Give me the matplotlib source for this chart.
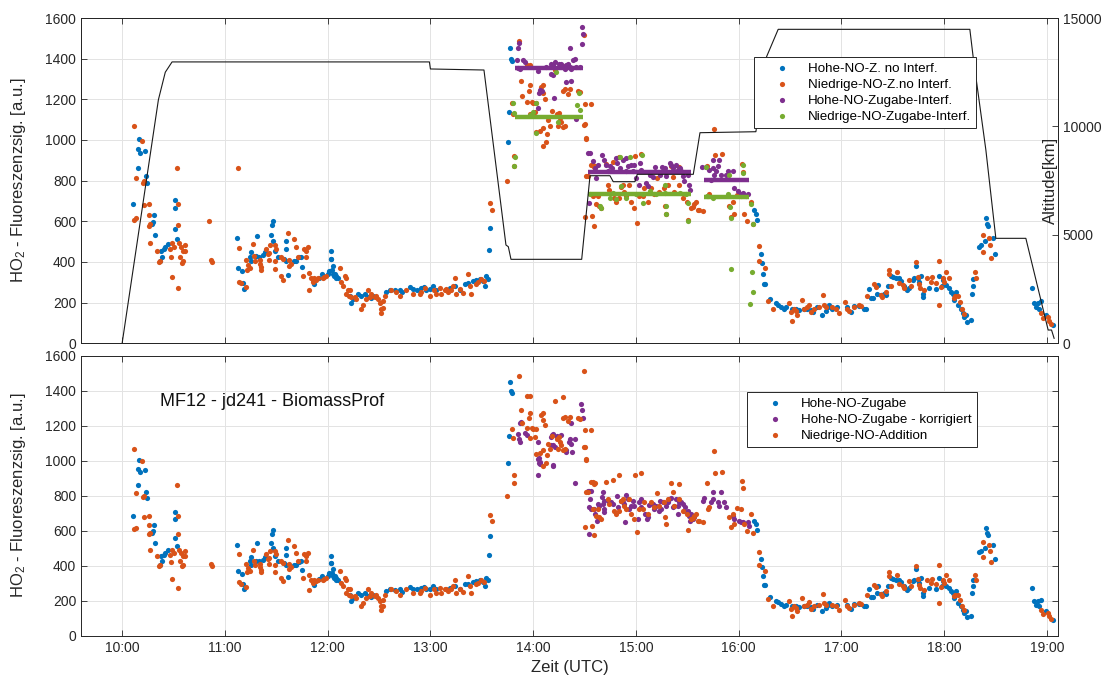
import matplotlib.pyplot as plt

plt.rcParams['font.family'] = ['Liberation Sans', 'DejaVu Sans']
plt.rcParams['mathtext.default'] = 'regular'

# colours of the instrument channels
C_BLUE = '#0072BD'
C_ORANGE = '#D95319'
C_PURPLE = '#7E2F8E'
C_GREEN = '#77AC30'
C_AXIS = '#262626'

# time axis (decimal hours UTC)
hour_ticks = [10, 11, 12, 13, 14, 15, 16, 17, 18, 19]
hour_labels = ['10:00', '11:00', '12:00', '13:00', '14:00',
               '15:00', '16:00', '17:00', '18:00', '19:00']

# high NO addition, no interference
blue_t = [10.103, 10.152, 10.155, 10.161, 10.171, 10.226, 10.232, 10.242, 10.29, 10.30,
          10.313, 10.316, 10.371, 10.377, 10.387, 10.403, 10.419, 10.45, 10.51, 10.516,
          10.516, 10.532, 11.113, 11.123, 11.168, 11.177, 11.187, 11.242, 11.258, 11.258,
          11.306, 11.316, 11.329, 11.371, 11.387, 11.452, 11.458, 11.468, 11.468, 11.484,
          11.516, 11.58, 11.597, 11.597, 11.597, 11.613, 11.677, 11.694, 11.726, 11.742,
          11.752, 11.855, 11.871, 11.919, 11.942, 12.0, 12.016, 12.032, 12.036, 12.036,
          12.045, 12.048, 12.052, 12.065, 12.068, 12.081, 12.084, 12.10, 12.214, 12.23,
          12.247, 12.295, 12.328, 12.36, 12.393, 12.425, 12.44, 12.571, 12.604, 12.653,
          12.701, 12.727, 12.799, 12.83, 12.87, 12.912, 12.938, 12.961, 12.994, 13.026,
          13.058, 13.188, 13.237, 13.286, 13.334, 13.367, 13.416, 13.448, 13.481, 13.513,
          13.529, 13.545, 13.562, 13.568, 13.578, 13.756, 13.763, 13.776, 13.782, 13.789,
          16.153, 16.169, 16.175, 16.218, 16.224, 16.234, 16.244, 16.256, 16.305, 16.364,
          16.38, 16.412, 16.445, 16.461, 16.523, 16.555, 16.588, 16.636, 16.669, 16.701,
          16.724, 16.766, 16.815, 16.847, 16.864, 16.88, 16.912, 16.961, 17.058, 17.091,
          17.123, 17.172, 17.221, 17.237, 17.269, 17.286, 17.302, 17.341, 17.36, 17.383,
          17.416, 17.432, 17.448, 17.481, 17.497, 17.529, 17.562, 17.578, 17.61, 17.633,
          17.659, 17.692, 17.708, 17.724, 17.74, 17.756, 17.773, 17.789, 17.795, 17.854,
          17.919, 17.951, 17.977, 17.99, 18.016, 18.049, 18.065, 18.081, 18.097, 18.114,
          18.13, 18.162, 18.179, 18.195, 18.211, 18.218, 18.26, 18.269, 18.282, 18.276,
          18.341, 18.357, 18.406, 18.412, 18.422, 18.399, 18.471, 18.497, 18.854, 18.877,
          18.893, 18.909, 18.925, 18.942, 18.99, 19.055]
blue_v = [685, 860, 954, 1006, 935, 944, 823, 787, 585, 598,
          630, 531, 406, 454, 425, 463, 473, 488, 560, 704,
          665, 512, 516, 371, 354, 297, 265, 426, 451, 403,
          429, 527, 426, 435, 449, 531, 583, 604, 502, 454,
          425, 415, 406, 502, 463, 335, 404, 404, 423, 427,
          375, 310, 291, 323, 339, 339, 358, 416, 455, 417,
          360, 339, 379, 329, 340, 320, 331, 321, 235, 197,
          216, 245, 235, 245, 226, 222, 235, 254, 264, 260,
          264, 250, 277, 268, 264, 273, 279, 264, 268, 283,
          264, 273, 283, 264, 293, 298, 306, 312, 318, 306,
          283, 331, 318, 461, 567, 988, 1139, 1452, 1400, 1388,
          657, 638, 606, 438, 394, 343, 291, 291, 219, 196,
          190, 181, 171, 177, 168, 171, 162, 168, 171, 162,
          152, 177, 139, 158, 177, 187, 168, 177, 177, 152,
          183, 183, 171, 171, 267, 221, 221, 244, 286, 236,
          244, 236, 282, 330, 324, 320, 320, 305, 282, 263,
          272, 311, 320, 381, 320, 301, 330, 229, 244, 272,
          267, 330, 282, 311, 286, 272, 253, 244, 215, 253,
          187, 171, 149, 129, 139, 107, 115, 244, 282, 316,
          476, 486, 615, 587, 577, 501, 516, 438, 272, 196,
          177, 196, 171, 206, 139, 91]

# low NO addition (same samples in both panels)
orange_t = [10.113, 10.119, 10.135, 10.139, 10.194, 10.203, 10.21, 10.21, 10.258, 10.258,
            10.258, 10.274, 10.274, 10.339, 10.355, 10.365, 10.468, 10.477, 10.484, 10.484,
            10.5, 10.532, 10.539, 10.548, 10.548, 10.558, 10.565, 10.571, 10.581, 10.597,
            10.597, 10.613, 10.613, 10.865, 10.871, 11.139, 11.139, 11.161, 11.21, 11.21,
            11.219, 11.226, 11.242, 11.274, 11.281, 11.29, 11.34, 11.345, 11.35, 11.355,
            11.403, 11.419, 11.426, 11.429, 11.435, 11.484, 11.49, 11.49, 11.5, 11.548,
            11.548, 11.565, 11.565, 11.613, 11.623, 11.623, 11.639, 11.677, 11.694, 11.71,
            11.758, 11.768, 11.79, 11.79, 11.806, 11.816, 11.823, 11.839, 11.855, 11.871,
            11.887, 11.903, 11.952, 11.968, 11.984, 12.117, 12.133, 12.149, 12.166, 12.182,
            12.182, 12.198, 12.208, 12.221, 12.23, 12.263, 12.279, 12.328, 12.344, 12.377,
            12.393, 12.409, 12.425, 12.458, 12.474, 12.49, 12.506, 12.523, 12.523, 12.539,
            12.539, 12.555, 12.62, 12.669, 12.701, 12.766, 12.831, 12.896, 12.912, 12.945,
            12.994, 13.032, 13.058, 13.091, 13.107, 13.14, 13.156, 13.172, 13.205, 13.221,
            13.237, 13.253, 13.286, 13.318, 13.367, 13.383, 13.399, 13.448, 13.464, 13.497,
            13.52, 13.584, 13.597, 13.747, 13.792, 13.805, 13.815, 13.815, 13.864, 13.88,
            13.89, 13.935, 13.94, 13.955, 13.968, 13.968, 13.97, 13.99, 14.0, 14.016,
            14.03, 14.032, 14.065, 14.075, 14.091, 14.091, 14.097, 14.097, 14.114, 14.123,
            14.13, 14.146, 14.162, 14.179, 14.214, 14.233, 14.243, 14.252, 14.265, 14.27,
            14.29, 14.291, 14.292, 14.307, 14.307, 14.34, 14.356, 14.437, 14.453, 14.497,
            14.495, 14.502, 14.502, 14.513, 14.518, 14.566, 14.506, 14.516, 14.534, 14.562,
            14.571, 14.578, 14.583, 14.588, 14.588, 14.599, 14.61, 14.627, 14.643, 14.659,
            14.708, 14.724, 14.74, 14.779, 14.789, 14.805, 14.831, 14.838, 14.854, 14.87,
            14.886, 14.903, 14.935, 14.951, 14.984, 14.994, 15.006, 15.032, 15.049, 15.065,
            15.081, 15.114, 15.146, 15.172, 15.205, 15.227, 15.276, 15.286, 15.292, 15.308,
            15.341, 15.357, 15.373, 15.416, 15.422, 15.461, 15.494, 15.503, 15.536, 15.552,
            15.568, 15.584, 15.601, 15.617, 15.649, 15.688, 15.698, 15.714, 15.763, 15.773,
            15.838, 15.909, 15.925, 15.942, 15.958, 15.981, 16.023, 16.032, 16.045, 16.055,
            16.078, 16.12, 16.143, 16.195, 16.201, 16.26, 16.282, 16.331, 16.49, 16.506,
            16.523, 16.539, 16.555, 16.571, 16.62, 16.636, 16.669, 16.685, 16.701, 16.734,
            16.782, 16.821, 16.831, 16.847, 16.912, 16.945, 16.977, 17.036, 17.058, 17.075,
            17.123, 17.172, 17.188, 17.253, 17.318, 17.334, 17.383, 17.399, 17.432, 17.458,
            17.464, 17.481, 17.545, 17.555, 17.594, 17.61, 17.659, 17.675, 17.724, 17.74,
            17.756, 17.763, 17.805, 17.828, 17.87, 17.88, 17.919, 17.945, 17.951, 17.968,
            17.984, 18.0, 18.016, 18.049, 18.091, 18.107, 18.13, 18.153, 18.172, 18.195,
            18.299, 18.308, 18.373, 18.38, 18.432, 18.445, 18.455, 18.942, 18.964, 19.006,
            19.023, 19.039]
orange_v = [1067, 608, 813, 617, 996, 790, 796, 679, 685, 630,
            579, 585, 492, 454, 400, 406, 463, 423, 492, 325,
            473, 862, 685, 583, 271, 492, 425, 473, 396, 454,
            406, 483, 454, 411, 400, 469, 304, 295, 279, 410,
            362, 387, 371, 487, 429, 406, 410, 390, 362, 377,
            466, 437, 446, 408, 485, 485, 404, 365, 466, 425,
            329, 416, 310, 544, 410, 381, 391, 512, 473, 425,
            329, 464, 454, 425, 473, 262, 348, 320, 300, 320,
            310, 320, 320, 325, 329, 369, 302, 283, 331, 321,
            245, 264, 235, 264, 226, 226, 216, 168, 187, 216,
            264, 226, 245, 226, 235, 216, 197, 168, 149, 206,
            172, 235, 264, 254, 235, 264, 245, 245, 254, 273,
            235, 264, 245, 273, 245, 264, 268, 254, 264, 283,
            321, 245, 268, 249, 341, 283, 245, 293, 302, 318,
            306, 689, 657, 800, 1183, 1130, 921, 873, 1486, 1289,
            1216, 1369, 1187, 1241, 1369, 1130, 1270, 1187, 1183, 1136,
            1183, 1040, 1046, 1260, 1270, 969, 1231, 1059, 1203, 988,
            1030, 1097, 1069, 1141, 1342, 1126, 1068, 1135, 1107, 1090,
            1365, 1241, 1063, 1250, 1068, 1225, 1250, 1241, 1237, 1076,
            1515, 1177, 1078, 1006, 1011, 1177, 619, 823, 823, 876,
            625, 724, 876, 867, 575, 873, 686, 724, 676, 667,
            880, 781, 752, 891, 714, 695, 714, 918, 771, 781,
            743, 724, 781, 695, 667, 920, 590, 724, 930, 724,
            762, 695, 762, 733, 815, 743, 762, 676, 638, 781,
            872, 819, 743, 867, 781, 714, 695, 606, 667, 670,
            686, 695, 657, 657, 651, 870, 724, 733, 1053, 928,
            933, 676, 619, 695, 638, 728, 724, 882, 842, 638,
            600, 695, 587, 404, 480, 371, 209, 171, 196, 152,
            110, 168, 158, 139, 215, 168, 177, 190, 152, 171,
            177, 240, 187, 177, 177, 168, 149, 202, 171, 158,
            177, 187, 183, 234, 291, 278, 236, 227, 253, 362,
            339, 282, 349, 297, 286, 272, 311, 282, 400, 324,
            291, 272, 263, 320, 301, 324, 297, 406, 187, 278,
            320, 301, 349, 320, 225, 234, 234, 202, 168, 145,
            349, 320, 535, 447, 520, 482, 419, 149, 126, 129,
            110, 95]

# two extra low-NO samples only kept in the upper panel
orange_top_t = [10.846, 11.13]
orange_top_v = [603, 864]

# high NO addition during interference, raw
purple_raw_t = [13.838, 13.854, 13.854, 13.864, 13.871, 13.903, 13.919, 14.049, 14.049, 14.058,
                14.065, 14.081, 14.129, 14.178, 14.178, 14.194, 14.194, 14.201, 14.21, 14.252,
                14.275, 14.291, 14.307, 14.317, 14.324, 14.34, 14.356, 14.356, 14.372, 14.372,
                14.388, 14.405, 14.414, 14.421, 14.453, 14.476, 14.479, 14.485,
                14.534, 14.544, 14.55, 14.583, 14.599, 14.615, 14.631, 14.673, 14.686, 14.712,
                14.728, 14.751, 14.77, 14.803, 14.816, 14.848, 14.874, 14.9, 14.906, 14.922,
                14.955, 14.971, 14.977, 15.003, 15.029, 15.042, 15.052, 15.1, 15.117, 15.133,
                15.165, 15.181, 15.23, 15.256, 15.278, 15.294, 15.327, 15.343, 15.359, 15.385,
                15.408, 15.424, 15.44, 15.456, 15.472, 15.505, 15.521, 15.528,
                15.644, 15.683, 15.715, 15.731, 15.748, 15.748, 15.764, 15.78, 15.796, 15.812,
                15.828, 15.877, 15.893, 15.942, 15.958, 15.99, 16.023, 16.039, 16.071, 16.087]
purple_raw_v = [1392, 1452, 1354, 1478, 1351, 1392, 1384, 1338, 1155, 1229,
                1245, 1240, 1359, 1376, 1327, 1367, 1319, 1208, 1384, 1376,
                1376, 1359, 1351, 1286, 1367, 1376, 1359, 1452, 1351, 1289,
                1392, 1400, 1103, 1359, 1359, 1555, 1473, 1522,
                935, 691, 935, 895, 862, 813, 875, 924, 903, 878,
                846, 870, 862, 911, 887, 862, 903, 911, 849, 870,
                878, 846, 875, 813, 781, 887, 854, 789, 773, 830,
                816, 865, 830, 865, 862, 822, 887, 878, 862, 878,
                854, 862, 846, 822, 797, 830, 781, 756,
                865, 865, 854, 805, 862, 903, 830, 846, 870, 903,
                830, 830, 846, 846, 765, 748, 735, 740, 724, 732]

# low NO addition during interference
green_t = [13.806, 13.816, 13.816, 13.822, 13.968, 14.0, 14.026, 14.032, 14.22, 14.243,
           14.427, 14.447, 14.453, 14.55, 14.647, 14.663, 14.744, 14.777, 14.809, 14.841,
           14.858, 14.906, 14.939, 15.003, 15.061, 15.068, 15.068, 15.133, 15.197, 15.278,
           15.278, 15.288, 15.294, 15.424, 15.489, 15.505, 15.505,
           15.683, 15.693, 15.748, 15.893, 15.903, 15.916, 15.926, 15.926, 16.039,
           16.039, 16.11, 16.12, 16.129, 16.136, 16.142]
green_v = [1180, 1131, 870, 916, 1123, 1139, 1180, 1033, 1335, 1087,
           1172, 1229, 1147, 732, 675, 667, 716, 740, 708, 914,
           773, 716, 914, 732, 927, 735, 691, 748, 732, 781,
           740, 675, 634, 740, 732, 691, 601,
           865, 724, 716, 735, 826, 670, 618, 365, 878,
           838, 191, 686, 349, 254, 585]

# segment means of the interference periods
seg_start = [13.82, 14.53, 15.66]
seg_end = [14.48, 15.54, 16.10]
seg_hi = [1354, 841, 802]
seg_lo = [1115, 732, 719]

# high NO addition, corrected for interference
purple_cor_t = [13.854, 13.864, 13.87, 13.87, 13.886, 13.919, 13.935, 14.042, 14.049, 14.049,
                14.055, 14.058, 14.065, 14.071, 14.178, 14.178, 14.179, 14.188, 14.194, 14.194,
                14.195, 14.21, 14.227, 14.233, 14.275, 14.318, 14.324, 14.351, 14.356, 14.366,
                14.372, 14.377, 14.405, 14.409, 14.469, 14.479, 14.485,
                14.529, 14.539, 14.545, 14.545, 14.552, 14.562, 14.562, 14.594, 14.604, 14.617,
                14.627, 14.643, 14.669, 14.675, 14.675, 14.692, 14.692, 14.692, 14.74, 14.756,
                14.773, 14.812, 14.821, 14.854, 14.87, 14.886, 14.896, 14.903, 14.919, 14.935,
                14.951, 14.968, 14.984, 15.016, 15.032, 15.049, 15.049, 15.091, 15.104, 15.114,
                15.13, 15.162, 15.179, 15.195, 15.221, 15.234, 15.244, 15.26, 15.292, 15.308,
                15.325, 15.341, 15.357, 15.373, 15.39, 15.406, 15.406, 15.422, 15.438, 15.455,
                15.471, 15.481, 15.503, 15.519, 15.526, 15.536, 15.552, 15.568,
                15.649, 15.666, 15.731, 15.747, 15.753, 15.795, 15.812, 15.828, 15.86, 15.877,
                15.942, 15.958, 16.006, 16.023, 16.039, 16.088, 16.104]
purple_cor_v = [1155, 1126, 1218, 1107, 1222, 1160, 1149, 919, 1107, 1011,
                988, 1015, 992, 982, 1135, 1087, 1149, 1088, 1154, 972,
                973, 1078, 1136, 1141, 1145, 1048, 1059, 1105, 1122, 1218,
                1097, 1051, 1126, 870, 1321, 1289, 1241,
                829, 581, 829, 733, 781, 829, 724, 724, 695, 657,
                752, 743, 790, 819, 752, 771, 724, 705, 762, 762,
                752, 796, 733, 771, 762, 752, 648, 804, 781, 724,
                743, 771, 743, 667, 762, 781, 733, 695, 667, 676,
                747, 752, 724, 743, 714, 771, 724, 762, 743, 762,
                781, 785, 733, 743, 781, 743, 695, 762, 762, 752,
                714, 733, 714, 686, 657, 695, 667, 676,
                771, 785, 762, 781, 819, 762, 743, 819, 762, 733,
                686, 667, 657, 648, 648, 648, 629]

# flight altitude
alt_t = [10.0, 10.353, 10.42, 10.486, 12.99, 13.0, 13.521, 13.735, 13.758, 13.784,
         14.472, 14.553, 14.747, 14.779, 14.99, 15.013, 15.558, 15.623, 16.167, 16.271,
         16.384, 18.249, 18.281, 18.405, 18.502, 18.794, 19.011, 19.044, 19.069]
alt_v = [0, 11230, 12500, 12975, 12975, 12650, 12602, 4533, 4455, 3873,
         3873, 7728, 7728, 7452, 7452, 7793, 7793, 9711, 9757, 13215,
         14478, 14478, 13215, 8913, 4841, 4841, 613, 613, 230]

YLABEL = 'HO$_2$ - Fluoreszenzsig. [a.u.]'
LEG_KW = dict(loc='upper left', fontsize=9.6, frameon=True, fancybox=False,
              framealpha=1, edgecolor=C_AXIS, handlelength=3.4, handletextpad=0.2,
              borderpad=0.4, labelspacing=0.28, borderaxespad=0)


def style_axes(ax):
    ax.set_xlim(9.6, 19.107)
    ax.set_ylim(0, 1600)
    ax.set_yticks(range(0, 1601, 200))
    ax.set_xticks(hour_ticks)
    ax.grid(True, color='#e3e3e3', linewidth=0.7)
    ax.set_axisbelow(True)
    ax.tick_params(direction='in', length=4, width=0.6, colors=C_AXIS,
                   labelsize=10, top=True)
    for sp in ax.spines.values():
        sp.set_color(C_AXIS)
        sp.set_linewidth(0.7)
    ax.set_ylabel(YLABEL, fontsize=12, color=C_AXIS)
    ax.yaxis.set_label_coords(-0.054, 0.5)


fig = plt.figure(figsize=(11.19, 6.82), dpi=100)
ax1 = fig.add_axes([0.0724, 0.4966, 0.8731, 0.4770])
ax2 = fig.add_axes([0.0724, 0.0679, 0.8731, 0.4106])

ms = 14

# upper panel
style_axes(ax1)
ax1.set_xticklabels([])
ax1.tick_params(right=False)
h1 = ax1.scatter(blue_t, blue_v, s=ms, color=C_BLUE, lw=0)
h2 = ax1.scatter(orange_t + orange_top_t, orange_v + orange_top_v, s=ms, color=C_ORANGE, lw=0)
h3 = ax1.scatter(purple_raw_t, purple_raw_v, s=ms, color=C_PURPLE, lw=0)
h4 = ax1.scatter(green_t, green_v, s=ms, color=C_GREEN, lw=0)
ax1.hlines(seg_hi, seg_start, seg_end, color=C_PURPLE, lw=3.2)
ax1.hlines(seg_lo, seg_start, seg_end, color=C_GREEN, lw=3.2)

ax1r = ax1.twinx()
ax1r.plot(alt_t, alt_v, color='#1a1a1a', lw=0.8)
ax1r.set_ylim(0, 15000)
ax1r.set_yticks([0, 5000, 10000, 15000])
ax1r.tick_params(direction='in', length=4, width=0.6, colors=C_AXIS, labelsize=10)
for sp in ax1r.spines.values():
    sp.set_color(C_AXIS)
    sp.set_linewidth(0.7)
ax1r.set_ylabel('Altitude[km]', fontsize=12, color=C_AXIS)
ax1r.yaxis.set_label_coords(0.985, 0.5)

leg1 = ax1r.legend([h1, h2, h3, h4],
                   ['Hohe-NO-Z. no Interf.', 'Niedrige-NO-Z.no Interf.',
                    'Hohe-NO-Zugabe-Interf.', 'Niedrige-NO-Zugabe-Interf.'],
                   bbox_to_anchor=(0.689, 0.880), **LEG_KW)
leg1.get_frame().set_linewidth(0.7)

# lower panel
style_axes(ax2)
ax2.set_xticklabels(hour_labels)
ax2.tick_params(right=True)
g1 = ax2.scatter(blue_t, blue_v, s=ms, color=C_BLUE, lw=0)
g2 = ax2.scatter(purple_cor_t, purple_cor_v, s=ms, color=C_PURPLE, lw=0)
g3 = ax2.scatter(orange_t, orange_v, s=ms, color=C_ORANGE, lw=0)
ax2.set_xlabel('Zeit (UTC)', fontsize=12, color=C_AXIS, labelpad=4)
ax2.text(10.37, 1340, 'MF12 - jd241 - BiomassProf', fontsize=13,
         va='center', ha='left', color='#111111')

leg2 = ax2.legend([g1, g2, g3],
                  ['Hohe-NO-Zugabe', 'Hohe-NO-Zugabe - korrigiert', 'Niedrige-NO-Addition'],
                  bbox_to_anchor=(0.682, 0.870), **LEG_KW)
leg2.get_frame().set_linewidth(0.7)

fig.savefig('out.png', dpi=100)
